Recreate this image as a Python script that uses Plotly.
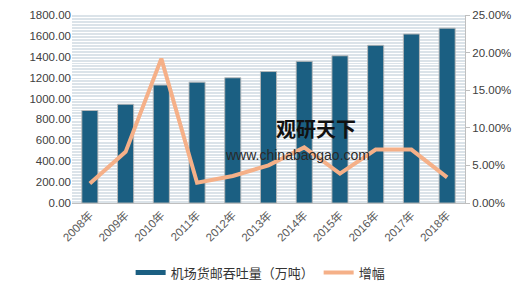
import plotly.graph_objects as go

years = ["2008年", "2009年", "2010年", "2011年", "2012年", "2013年", "2014年", "2015年", "2016年", "2017年", "2018年"]
throughput = [885.5, 945.6, 1129.0, 1157.0, 1199.0, 1258.5, 1356.1, 1409.4, 1510.4, 1617.7, 1674.0]
growth = [0.026, 0.068, 0.192, 0.027, 0.036, 0.050, 0.074, 0.039, 0.071, 0.071, 0.034]

bar_name = "机场货邮吞吐量（万吨）"
line_name = "增幅"
bar_color = "#1b5f82"
line_color = "#f5b088"

fig = go.Figure()
fig.add_trace(go.Bar(
    x=years, y=throughput, name=bar_name, showlegend=False, legendgroup="a",
    marker=dict(color=bar_color, line=dict(color="rgba(185,185,185,0.9)", width=1)),
    width=0.45, yaxis="y",
))
fig.add_trace(go.Scatter(
    x=[None], y=[None], name=bar_name, mode="lines", legendgroup="a",
    line=dict(color=bar_color, width=5), yaxis="y",
))
fig.add_trace(go.Scatter(
    x=years, y=growth, name=line_name, mode="lines",
    line=dict(color=line_color, width=4), yaxis="y2",
))

font_fam = "Liberation Sans, Noto Sans CJK SC, sans-serif"
fig.update_layout(
    width=520, height=283,
    margin=dict(l=72, r=55, t=15, b=80, autoexpand=False),
    paper_bgcolor="white", plot_bgcolor="#dbe3e9",
    font=dict(family=font_fam, color="#404040", size=11),
    showlegend=True,
    legend=dict(orientation="h", x=0.48, xanchor="center", y=-0.29, yanchor="top",
                bgcolor="white", font=dict(size=13, color="#333333",
                family="Noto Sans CJK SC, sans-serif"),
                itemwidth=30, tracegroupgap=0),
    xaxis=dict(tickangle=-45, tickfont=dict(size=11.5, color="#595959",
               family="Liberation Sans, Noto Sans CJK SC"),
               showline=True, linecolor="#bfbfbf", linewidth=1, ticks="",
               range=[-0.5, 10.5], automargin=False),
    yaxis=dict(range=[0, 1800], dtick=200, tickformat=".2f", showgrid=True,
               gridcolor="#ffffff", gridwidth=1.4,
               minor=dict(dtick=28.125, showgrid=True, gridcolor="#ffffff", gridwidth=1.4),
               showline=False, zeroline=False, automargin=False,
               tickfont=dict(size=11.5, color="#404040")),
    yaxis2=dict(range=[0, 0.25], dtick=0.05, tickformat=".2%", overlaying="y",
                side="right", showgrid=False, showline=True, linecolor="#bfbfbf",
                ticks="outside", ticklen=4, tickcolor="#bfbfbf", zeroline=False,
                automargin=False, tickfont=dict(size=11.5, color="#404040")),
)

fig.add_annotation(xref="paper", yref="paper", x=0.62, y=0.31, text="<b>观研天下</b>",
                   showarrow=False, font=dict(size=20, color="#111111",
                   family="Noto Sans CJK SC, sans-serif"))
fig.add_annotation(xref="paper", yref="paper", x=0.575, y=0.20, text="www.chinabaogao.com",
                   showarrow=False, font=dict(size=14, color="#2a2a2a",
                   family="Liberation Sans, sans-serif"))

fig.write_html("out.html")
